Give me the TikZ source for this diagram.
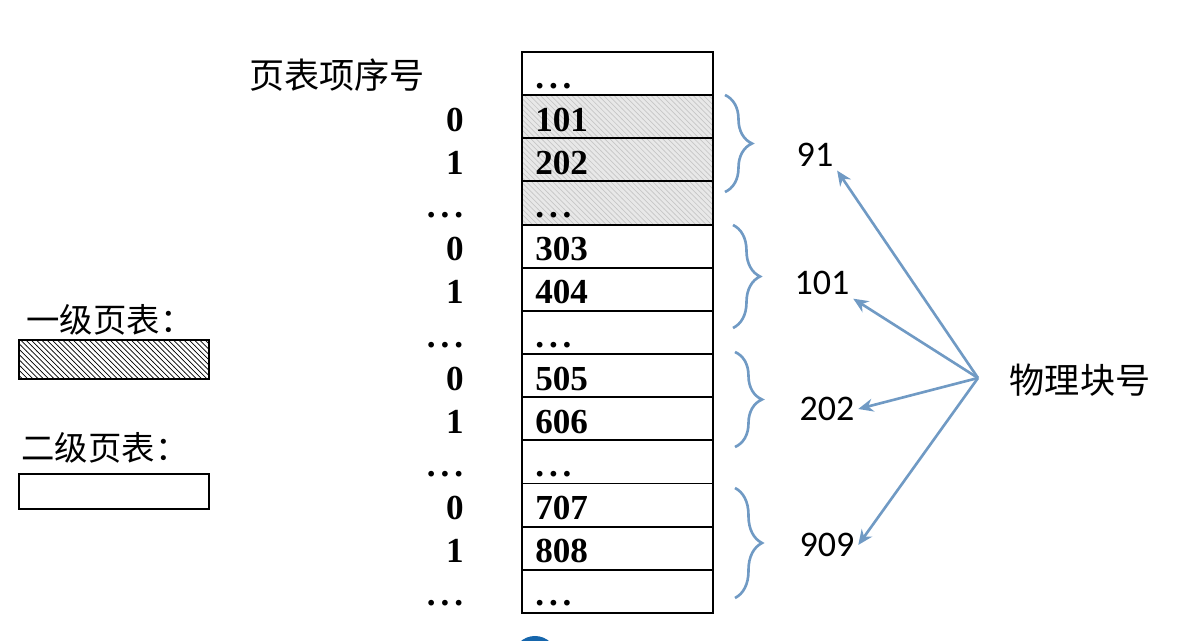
\documentclass[tikz,border=0pt]{standalone}
\usepackage{fontspec}
\setmainfont{Liberation Serif}
\newfontfamily\cjk{Noto Sans CJK SC}
\newfontfamily\numfont{Carlito}
\usetikzlibrary{patterns,decorations.pathreplacing,arrows.meta}
\definecolor{lineblue}{RGB}{112,154,196}
\definecolor{logoblue}{RGB}{22,102,172}
\newcommand\dd{.\hspace{0.14em}.\hspace{0.14em}.}
\tikzset{
  cell/.style={draw, line width=1.1pt, minimum width=3.82cm, minimum height=0.863cm, inner sep=0pt},
  plain/.style={},
  shaded/.style={fill=gray!18, postaction={pattern=north west lines, pattern color=gray!45},
    postaction={draw, line width=1.1pt}},
  val/.style={anchor=base west, inner sep=0pt, font=\fontsize{20}{24}\selectfont\bfseries},
  idx/.style={anchor=base, inner sep=0pt, font=\fontsize{20}{24}\selectfont\bfseries},
  blk/.style={font=\numfont\fontsize{20.5}{24}\selectfont, inner sep=2pt},
  zh/.style={font=\cjk\fontsize{19}{22}\selectfont, inner sep=0pt},
  legend/.style={draw, line width=1.1pt, minimum width=3.8cm, inner sep=0pt},
  brc/.style={draw=lineblue, line width=1.5pt, decorate, decoration={brace, amplitude=0.54cm}},
  ptr/.style={draw=lineblue, line width=1.5pt, -{Stealth[length=3mm,width=2.6mm]}}
}
\begin{document}
\begin{tikzpicture}[x=0.02cm, y=-0.02cm]
\useasboundingbox (0,0) rectangle (1178,641);
% the page table
\foreach \v/\s [count=\i] in {\dd/plain,101/shaded,202/shaded,\dd/shaded,303/plain,404/plain,\dd/plain,505/plain,606/plain,\dd/plain,707/plain,808/plain,\dd/plain} {
  \node[cell,\s] (r\i) at (617.5, {73.6+(\i-1)*43.15}) {};
  \node[val] (v\i) at (535, {45+\i*43.15}) {\v};
}
\foreach \n/\x [count=\i from 2] in {0/455,1/455,\dd/445,0/455,1/455,\dd/445,0/455,1/455,\dd/445,0/455,1/455,\dd/445}
  \node[idx] (e\i) at (\x, {45+\i*43.15}) {\n};
\node[zh, font=\cjk\fontsize{20}{24}\selectfont] (hd) at (337,75) {页表项序号};
% legend
\node[zh] (t1) at (110,320) {一级页表：};
\node[legend, minimum height=0.78cm, pattern=north west lines] (lg1) at (114,359.5) {};
\node[zh] (t2) at (105,448) {二级页表：};
\node[legend, minimum height=0.7cm] (lg2) at (114,491.5) {};
% braces
\draw[brc] (725,95) -- (725,192);
\draw[brc] (733,225) -- (733,328);
\draw[brc] (735,352) -- (735,447);
\draw[brc] (735,488) -- (735,598);
% physical blocks
\node[blk] (k91) at (815,155) {91};
\node[blk] (k101) at (822,283) {101};
\node[blk] (k202) at (827,409) {202};
\node[blk] (k909) at (827,545) {909};
\node[zh, font=\cjk\fontsize{20}{24}\selectfont] (pb) at (1080,380) {物理块号};
\coordinate (src) at (978,378);
\draw[ptr] (src) -- (k91.south east);
\draw[ptr] (src) -- (k101.south east);
\draw[ptr] (src) -- (k202.east);
\draw[ptr] (src) -- (k909.east);
\fill[logoblue] (535,658) circle (22);
\end{tikzpicture}
\end{document}
